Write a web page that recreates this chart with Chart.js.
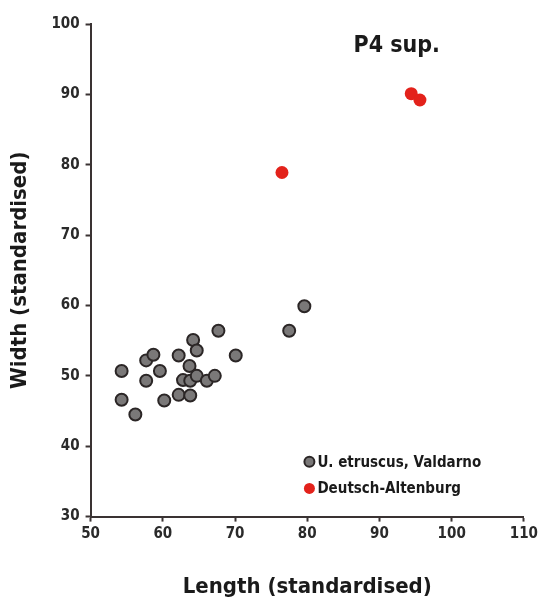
<!DOCTYPE html>
<html>
<head>
<meta charset="utf-8">
<script src="https://cdn.jsdelivr.net/npm/chart.js@4"></script>
<style>
  body { margin: 0; background: #fff; }
  #wrap { width: 542px; height: 606px; }
</style>
</head>
<body>
<div id="wrap"><canvas id="chart" width="542" height="606"></canvas></div>
<script>
  // --- data ---
  const valdarnoX = [54.3, 54.3, 56.2, 57.7, 58.7, 57.7, 59.6, 60.2, 62.2, 64.2, 64.7, 67.7, 70.1,
                     63.7, 62.8, 62.2, 63.8, 63.8, 64.7, 66.1, 67.2, 77.5, 79.6];
  const valdarnoY = [50.7, 46.6, 44.5, 52.2, 53.0, 49.3, 50.7, 46.5, 52.9, 55.1, 53.6, 56.4, 52.9,
                     51.4, 49.4, 47.3, 47.2, 49.3, 50.0, 49.3, 50.0, 56.4, 59.9];
  const altenburgX = [76.5, 94.4, 95.6];
  const altenburgY = [78.9, 90.1, 89.2];
  const xTicks = [50, 60, 70, 80, 90, 100, 110];
  const yTicks = [30, 40, 50, 60, 70, 80, 90, 100];
  const seriesNames = ['U. etruscus, Valdarno', 'Deutsch-Altenburg'];
  const panelTitle = 'P4 sup.';

  const fontFam = '"DejaVu Sans Condensed", "Liberation Sans Narrow", "DejaVu Sans", sans-serif';
  const axisColor = '#3a3333';

  function toPoints(xs, ys) {
    let pts = [];
    for (let i = 0; i < xs.length; i++) {
      pts.push({ x: xs[i], y: ys[i] });
    }
    return pts;
  }

  // legend + panel title drawn inside the plot area
  const insideText = {
    id: 'insideText',
    afterDraw(chart) {
      const ctx = chart.ctx;
      const xs = chart.scales.x;
      const ys = chart.scales.y;
      ctx.save();
      ctx.fillStyle = '#1a1a1a';
      ctx.font = 'bold 23px ' + fontFam;
      ctx.textAlign = 'left';
      ctx.textBaseline = 'middle';
      ctx.fillText(panelTitle, xs.getPixelForValue(86.4), ys.getPixelForValue(96.8));

      const lx = xs.getPixelForValue(80.3);
      const rows = [ys.getPixelForValue(37.8), ys.getPixelForValue(34.0)];
      chart.data.datasets.forEach((ds, i) => {
        ctx.beginPath();
        ctx.arc(lx, rows[i], i === 0 ? 5 : 5.5, 0, Math.PI * 2);
        ctx.fillStyle = ds.backgroundColor;
        ctx.fill();
        if (ds.borderWidth) {
          ctx.lineWidth = 2;
          ctx.strokeStyle = ds.borderColor;
          ctx.stroke();
        }
        ctx.fillStyle = '#1a1a1a';
        ctx.font = 'bold 15px ' + fontFam;
        ctx.fillText(ds.label, lx + 8, rows[i] + 1);
      });
      ctx.restore();
    }
  };

  const scatterData = {
    datasets: [{
      label: seriesNames[0],
      data: toPoints(valdarnoX, valdarnoY),
      backgroundColor: '#7a7878',
      borderColor: '#2b2626',
      borderWidth: 2,
      pointRadius: 6,
    }, {
      label: seriesNames[1],
      data: toPoints(altenburgX, altenburgY),
      backgroundColor: '#e3221b',
      borderColor: '#e3221b',
      borderWidth: 0,
      pointRadius: 6.5,
    }]
  };

  const config = {
    type: 'scatter',
    data: scatterData,
    options: {
      responsive: false,
      animation: false,
      layout: { padding: { top: 24, right: 0, bottom: 6, left: 7 } },
      plugins: {
        legend: { display: false },
        tooltip: { enabled: false }
      },
      scales: {
        x: {
          type: 'linear',
          min: 50, max: 110,
          afterBuildTicks: (axis) => { axis.ticks = xTicks.map(v => ({ value: v })); },
          grid: { drawOnChartArea: false, drawTicks: true, tickLength: 5, color: axisColor, tickWidth: 2 },
          border: { display: true, color: axisColor, width: 2 },
          ticks: { color: '#2a2a2a', font: { family: fontFam, size: 15, weight: 'bold' }, padding: 4, maxRotation: 0 },
          title: {
            display: true, text: 'Length (standardised)', color: '#1a1a1a',
            font: { family: fontFam, size: 22, weight: 'bold' },
            padding: { top: 26, bottom: 0 }
          }
        },
        y: {
          type: 'linear',
          min: 30, max: 100,
          afterBuildTicks: (axis) => { axis.ticks = yTicks.map(v => ({ value: v })); },
          grid: { drawOnChartArea: false, drawTicks: true, tickLength: 5, color: axisColor, tickWidth: 2 },
          border: { display: true, color: axisColor, width: 2 },
          ticks: { color: '#2a2a2a', font: { family: fontFam, size: 15, weight: 'bold' }, padding: 6 },
          title: {
            display: true, text: 'Width (standardised)', color: '#1a1a1a',
            font: { family: fontFam, size: 22, weight: 'bold' },
            padding: { top: 0, bottom: 12 }
          }
        }
      }
    },
    plugins: [insideText]
  };

  const scatterChart = new Chart(document.getElementById('chart'), config);
</script>
</body>
</html>
